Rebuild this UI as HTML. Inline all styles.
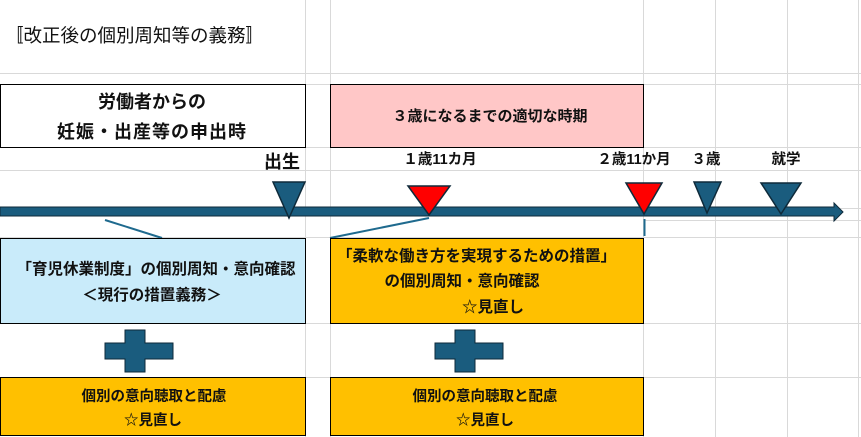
<!DOCTYPE html>
<html><head><meta charset="utf-8"><style>
body{margin:0;background:#fff}
svg{display:block}
text{font-family:"Liberation Sans","Noto Sans CJK JP",sans-serif;font-weight:bold;fill:#111}
</style></head><body>
<svg width="861" height="437" viewBox="0 0 861 437" xmlns="http://www.w3.org/2000/svg">
<g stroke="#d9d9d9" stroke-width="1">
<line x1="305.5" y1="0" x2="305.5" y2="437"/><line x1="330.5" y1="0" x2="330.5" y2="437"/>
<line x1="643.5" y1="0" x2="643.5" y2="437"/><line x1="715.5" y1="0" x2="715.5" y2="437"/>
<line x1="787.5" y1="0" x2="787.5" y2="437"/><line x1="858.5" y1="0" x2="858.5" y2="437"/>
<line x1="0" y1="73.5" x2="861" y2="73.5"/><line x1="0" y1="84.5" x2="861" y2="84.5"/>
<line x1="0" y1="147.5" x2="861" y2="147.5"/><line x1="0" y1="170.5" x2="861" y2="170.5"/>
<line x1="643" y1="208.5" x2="861" y2="208.5"/>
<line x1="643" y1="220.5" x2="861" y2="220.5"/><line x1="0" y1="237.5" x2="861" y2="237.5"/>
<line x1="0" y1="323.5" x2="861" y2="323.5"/><line x1="0" y1="377.5" x2="861" y2="377.5"/>
</g>
<text x="5" y="42" font-size="18.5" style="font-weight:normal">〚改正後の個別周知等の義務〛</text>
<rect x="0.5" y="84.5" width="305" height="63" fill="#fff" stroke="#000"/>
<text x="152" y="108" font-size="18" text-anchor="middle">労働者からの</text>
<text x="152" y="138" font-size="18" text-anchor="middle" letter-spacing="1">妊娠・出産等の申出時</text>
<rect x="330.5" y="84.5" width="313" height="63" fill="#ffc7c7" stroke="#000"/>
<text x="490" y="121" font-size="15" text-anchor="middle">３歳になるまでの適切な時期</text>
<text x="300" y="168" font-size="18" text-anchor="end">出生</text>
<text x="440" y="164" font-size="14.5" text-anchor="middle">１歳11カ月</text>
<text x="634" y="164" font-size="14.5" text-anchor="middle">２歳11か月</text>
<text x="706" y="164" font-size="14.5" text-anchor="middle">３歳</text>
<text x="786" y="164" font-size="14.5" text-anchor="middle">就学</text>
<polygon points="0,207 834,207 834,203 843,212 834,221 834,216 0,216" fill="#1a5c7e" stroke="#0e2a3a" stroke-width="1"/>
<polygon points="273,182 305,182 289,218" fill="#1a5c7e" stroke="#0e2a3a" stroke-width="1.5"/>
<polygon points="408,186 450,186 429,215" fill="#ff0000" stroke="#0e2a3a" stroke-width="1.5"/>
<polygon points="626,183 662,183 644,214" fill="#ff0000" stroke="#0e2a3a" stroke-width="1.5"/>
<polygon points="694,182 721,182 707,213" fill="#1a5c7e" stroke="#0e2a3a" stroke-width="1.5"/>
<polygon points="761,183 801,183 781,214" fill="#1a5c7e" stroke="#0e2a3a" stroke-width="1.5"/>
<g stroke="#1f6a8e" stroke-width="2">
<line x1="105" y1="220" x2="162" y2="238"/><line x1="429" y1="218" x2="330" y2="238"/>
<line x1="644.5" y1="219" x2="644.5" y2="236"/></g>
<rect x="0.5" y="238.5" width="305" height="85" fill="#c9ebfa" stroke="#000"/>
<text x="156" y="274" font-size="15.5" text-anchor="middle">「育児休業制度」の個別周知・意向確認</text>
<text x="152" y="300" font-size="15.5" text-anchor="middle">＜現行の措置義務＞</text>
<rect x="330.5" y="238.5" width="313" height="85" fill="#ffc000" stroke="#000"/>
<text x="337" y="261" font-size="15.5">「柔軟な働き方を実現するための措置」</text>
<text x="462" y="286" font-size="15.5" text-anchor="middle">の個別周知・意向確認</text>
<text x="493" y="312" font-size="15.5" text-anchor="middle">☆見直し</text>
<path d="M125,330h20v13h28v16h-28v13h-20v-13h-20v-16h20z" fill="#1a5c7e" stroke="#0e2a3a"/>
<path d="M455,330h20v13h28v16h-28v13h-20v-13h-20v-16h20z" fill="#1a5c7e" stroke="#0e2a3a"/>
<rect x="0.5" y="377.5" width="305" height="58" fill="#ffc000" stroke="#000"/>
<text x="154" y="401" font-size="14.5" text-anchor="middle">個別の意向聴取と配慮</text>
<text x="153" y="425" font-size="14.5" text-anchor="middle">☆見直し</text>
<rect x="330.5" y="377.5" width="313" height="58" fill="#ffc000" stroke="#000"/>
<text x="485" y="401" font-size="14.5" text-anchor="middle">個別の意向聴取と配慮</text>
<text x="485" y="425" font-size="14.5" text-anchor="middle">☆見直し</text>
</svg>
</body></html>
